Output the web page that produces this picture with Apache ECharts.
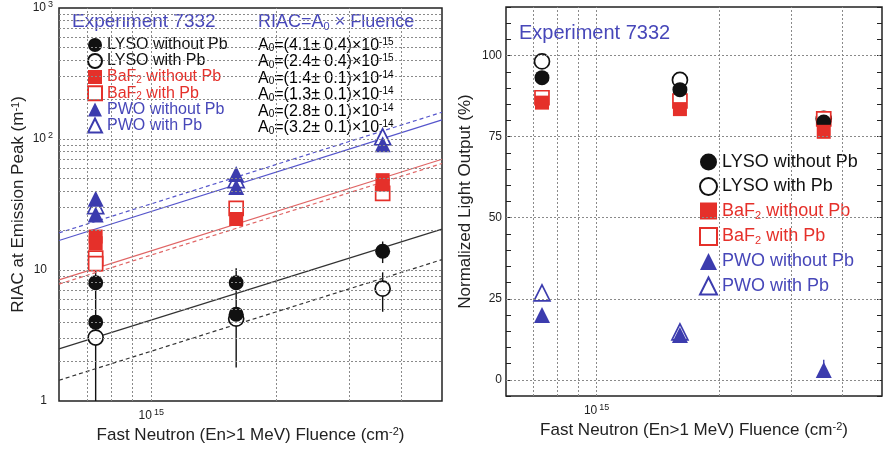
<!DOCTYPE html>
<html>
<head>
<meta charset="utf-8">
<script src="https://cdn.jsdelivr.net/npm/echarts@6/dist/echarts.min.js"></script>
<style>
  html, body { margin: 0; padding: 0; background: #fff; }
  #chart { width: 885px; height: 450px; }
</style>
</head>
<body>
<div id="chart"></div>
<script>
// x: fast neutron fluence (cm^-2), shared by both panels
const fluence = [7.35e14, 1.6e15, 3.6e15];
const fluenceRange = [6e14, 5e15];
const fluenceGrid = [7e14, 8e14, 9e14, 1e15, 2e15, 3e15, 4e15];
const riacGrid = [2, 3, 4, 5, 6, 7, 8, 9, 10, 20, 30, 40, 50, 60, 70, 80, 90, 100, 200, 300, 400, 500, 600, 700, 800, 900];
const lightGrid = [0, 25, 50, 75, 100];

const names = ['LYSO without Pb', 'LYSO with Pb', 'BaF2 without Pb', 'BaF2 with Pb', 'PWO without Pb', 'PWO with Pb'];

// left panel: RIAC (m^-1), one or more samples per fluence point
const riacLysoNoPb = [[8, 4], [8, 4.6], [13.9]];
const riacLysoPb = [[3.05], [4.25], [7.2]];
const riacBafNoPb = [[18, 16], [24.5], [48.5, 45]];
const riacBafPb = [[12.3, 11.2], [29.5], [38.5]];
const riacPwoNoPb = [[35, 26.5], [54, 43], [91]];
const riacPwoPb = [[31], [49], [104]];

// error bars: [fluence index, low, high]
const riacErrLyso = [[0, 0.5, 10.5], [1, 1.8, 10.3], [2, 11.3, 16.5], [2, 4.8, 9.6]];

// fit lines RIAC = A0 x Fluence, values at the two ends of fluenceRange
const fitLysoNoPb = [2.5, 20.5];
const fitLysoPb = [1.44, 12];
const fitBafNoPb = [8.4, 70];
const fitBafPb = [7.8, 65];
const fitPwoNoPb = [16.8, 140];
const fitPwoPb = [19.2, 160];

const a0Body = ['(4.1\u00b1 0.4)\u00d710', '(2.4\u00b1 0.4)\u00d710', '(1.4\u00b1 0.1)\u00d710', '(1.3\u00b1 0.1)\u00d710', '(2.8\u00b1 0.1)\u00d710', '(3.2\u00b1 0.1)\u00d710'];
const a0Exp = ['-15', '-15', '-14', '-14', '-14', '-14'];

// right panel: normalized light output (%)
const lightLysoNoPb = [93.2, 89.5, 79.5];
const lightLysoPb = [98.2, 92.5, 80.5];
const lightBafNoPb = [85.5, 83.5, 76.5];
const lightBafPb = [87, 86, 80.5];
const lightPwoNoPb = [20, 13.8, 3];
const lightPwoPb = [26.8, 14.8, null];
const lightErrPwo = [[2, 0.8, 6.2]];

const FONT = 'Liberation Sans, Arial, sans-serif';
const BLACK = '#111', RED = '#e5302a', BLUE = '#3c3cae';
const textColors = { k: '#111', r: '#e5302a', b: '#4747b9' };
const colorKey = name => name.startsWith('LYSO') ? 'k' : (name.startsWith('BaF2') ? 'r' : 'b');

const markers = {
  'LYSO without Pb': { symbol: 'circle', size: 15, color: BLACK, open: false },
  'LYSO with Pb': { symbol: 'circle', size: 15, color: BLACK, open: true },
  'BaF2 without Pb': { symbol: 'rect', size: 14, color: RED, open: false },
  'BaF2 with Pb': { symbol: 'rect', size: 14, color: RED, open: true },
  'PWO without Pb': { symbol: 'triangle', size: 16, color: BLUE, open: false },
  'PWO with Pb': { symbol: 'triangle', size: 16, color: BLUE, open: true }
};

function mkRich (size, lh) {
  const rich = {};
  const small = Math.round(size * 0.62);
  Object.keys(textColors).forEach(k => {
    const c = textColors[k];
    rich['t' + k] = { color: c, fontSize: size, lineHeight: lh, fontFamily: FONT };
    rich['sub' + k] = { color: c, fontSize: small, lineHeight: small, verticalAlign: 'bottom', fontFamily: FONT };
    rich['sup' + k] = { color: c, fontSize: small, lineHeight: small, verticalAlign: 'top', fontFamily: FONT };
  });
  return rich;
}

function nameLabel (name) {
  const k = colorKey(name);
  if (name.startsWith('BaF2')) {
    return `{t${k}|BaF}{sub${k}|2}{t${k}|${name.slice(4)}}`;
  }
  return `{t${k}|${name}}`;
}

function scatter (name, xi, yi, data) {
  const m = markers[name];
  return {
    name, type: 'scatter', xAxisIndex: xi, yAxisIndex: yi, data,
    symbol: m.symbol, symbolSize: m.size, z: m.open ? 3 : 4,
    itemStyle: m.open
      ? { color: '#fff', borderColor: m.color, borderWidth: 1.7, opacity: 1 }
      : { color: m.color, borderColor: m.color, borderWidth: 0, opacity: 1 }
  };
}

const samples = arr => fluence.flatMap((f, i) => arr[i].map(v => [f, v]));
const points = arr => fluence.map((f, i) => [f, arr[i]]).filter(p => p[1] != null);
const errData = arr => arr.map(e => [fluence[e[0]], e[1], e[2]]);

function fit (vals, color, dashed) {
  return {
    type: 'line', xAxisIndex: 0, yAxisIndex: 0, silent: true, z: 2,
    data: [[fluenceRange[0], vals[0]], [fluenceRange[1], vals[1]]],
    showSymbol: false,
    lineStyle: { color, width: 1.2, type: dashed ? [4, 3] : 'solid' }
  };
}

function errorBars (data, xi, yi, color) {
  return {
    type: 'custom', xAxisIndex: xi, yAxisIndex: yi, silent: true, z: 2, clip: true,
    data, encode: { x: 0, y: [1, 2] },
    renderItem: (params, api) => {
      const p1 = api.coord([api.value(0), api.value(1)]);
      const p2 = api.coord([api.value(0), api.value(2)]);
      return { type: 'line', shape: { x1: p1[0], y1: p1[1], x2: p2[0], y2: p2[1] }, style: { stroke: color, lineWidth: 1.4 } };
    }
  };
}

function gridLines (xi, yi, xs, ys) {
  return {
    type: 'line', xAxisIndex: xi, yAxisIndex: yi, data: [], silent: true, z: 1,
    markLine: {
      silent: true, symbol: 'none', animation: false,
      label: { show: false },
      lineStyle: { color: '#8a8a8a', width: 1, type: [2, 2] },
      data: xs.map(v => ({ xAxis: v })).concat(ys.map(v => ({ yAxis: v })))
    }
  };
}

const tickRich = {
  n: { fontSize: 12, lineHeight: 16, color: '#222', fontFamily: FONT },
  s: { fontSize: 9, lineHeight: 9, verticalAlign: 'top', color: '#222', fontFamily: FONT, padding: [0, 0, 0, 2] },
  gap: { width: 6, fontSize: 9 }
};
const nameStyle = {
  fontSize: 17, color: '#222', fontFamily: FONT,
  rich: {
    s: { fontSize: 11, lineHeight: 10, verticalAlign: 'top', color: '#222', fontFamily: FONT }
  }
};
const fluenceLabel = v => Math.abs(Math.log10(v) - 15) < 1e-6 ? '{n|10}{s|15}' : '';

function fluenceAxis (gridIndex) {
  return {
    gridIndex, type: 'log', logBase: 10, min: fluenceRange[0], max: fluenceRange[1],
    axisLine: { show: false }, axisTick: { show: false }, splitLine: { show: false },
    axisLabel: { formatter: fluenceLabel, rich: tickRich, margin: 7 },
    name: 'Fast Neutron (En>1 MeV) Fluence (cm{s|-2})',
    nameLocation: 'middle', nameGap: 24, nameTextStyle: nameStyle
  };
}

function lightAxis (position, showLabel) {
  return {
    gridIndex: 1, type: 'value', position, min: -5, max: 115, interval: 5,
    axisLine: { show: false },
    axisTick: { show: true, inside: true, length: 5, lineStyle: { color: '#222' } },
    splitLine: { show: false },
    axisLabel: {
      show: showLabel, margin: 4, fontSize: 12, color: '#222', fontFamily: FONT,
      formatter: v => v % 25 === 0 && v >= 0 && v <= 100 ? String(v) : ''
    },
    name: showLabel ? 'Normalized Light Output (%)' : '',
    nameLocation: 'middle', nameGap: 32, nameTextStyle: nameStyle
  };
}

const legendTop = 37, legendPitch = 16.5;

const option = {
  animation: false,
  backgroundColor: '#fff',
  textStyle: { fontFamily: FONT },
  grid: [
    { left: 59, top: 5, width: 383, height: 396, show: true, borderColor: '#222', borderWidth: 1.5 },
    { left: 506, top: 7, width: 377, height: 389, show: true, borderColor: '#222', borderWidth: 1.5 }
  ],
  xAxis: [fluenceAxis(0), fluenceAxis(1)],
  yAxis: [
    {
      gridIndex: 0, type: 'log', logBase: 10, min: 1, max: 1000,
      axisLine: { show: false }, axisTick: { show: false }, splitLine: { show: false },
      axisLabel: {
        margin: 6, rich: tickRich,
        formatter: v => {
          const e = Math.round(Math.log10(v));
          return e <= 1 ? `{n|${Math.round(v)}}{gap| }` : `{n|10}{s|${e}}`;
        }
      },
      name: 'RIAC at Emission Peak (m{s|-1})',
      nameLocation: 'middle', nameGap: 32, nameTextStyle: nameStyle
    },
    lightAxis('left', true),
    lightAxis('right', false)
  ],
  legend: [
    {
      orient: 'vertical', left: 87, top: legendTop, padding: 0, itemGap: 0,
      itemWidth: 14, itemHeight: 14, selectedMode: false,
      data: names, formatter: nameLabel,
      textStyle: { rich: mkRich(16, legendPitch) }
    },
    {
      orient: 'vertical', left: 699, top: 153, padding: 0, itemGap: 6,
      itemWidth: 17, itemHeight: 17, selectedMode: false,
      data: names, formatter: nameLabel,
      textStyle: { rich: mkRich(18, 20) }
    }
  ],
  graphic: [
    { type: 'text', x: 72, y: 22, silent: true, style: { text: 'Experiment 7332', fill: textColors.b, font: '19px ' + FONT, verticalAlign: 'middle' } },
    {
      type: 'text', x: 258, y: 22, silent: true,
      style: { text: '{t|RIAC=A}{sub|0}{t| \u00d7 Fluence}', verticalAlign: 'middle',
        rich: {
          t: { fill: textColors.b, fontSize: 18, lineHeight: 20, fontFamily: FONT },
          sub: { fill: textColors.b, fontSize: 11, lineHeight: 11, verticalAlign: 'bottom', fontFamily: FONT }
        } }
    },
    { type: 'text', x: 519, y: 33, silent: true, style: { text: 'Experiment 7332', fill: textColors.b, font: '20px ' + FONT, verticalAlign: 'middle' } }
  ].concat(names.map((name, i) => {
    const k = colorKey(name);
    return {
      type: 'text', x: 258, y: legendTop + legendPitch / 2 + i * legendPitch, silent: true,
      style: {
        text: `{t${k}|A}{sub${k}|0}{t${k}|=${a0Body[i]}}{sup${k}|${a0Exp[i]}}`,
        verticalAlign: 'middle', rich: mkRich(16, legendPitch)
      }
    };
  })),
  series: [
    gridLines(0, 0, fluenceGrid, riacGrid),
    gridLines(1, 1, fluenceGrid, lightGrid),

    fit(fitLysoNoPb, '#333', false),
    fit(fitLysoPb, '#333', true),
    fit(fitBafNoPb, '#e06565', false),
    fit(fitBafPb, '#e06565', true),
    fit(fitPwoNoPb, '#5656cc', false),
    fit(fitPwoPb, '#5656cc', true),

    errorBars(errData(riacErrLyso), 0, 0, BLACK),
    errorBars(errData(lightErrPwo), 1, 1, BLUE),

    scatter('LYSO without Pb', 0, 0, samples(riacLysoNoPb)),
    scatter('LYSO with Pb', 0, 0, samples(riacLysoPb)),
    scatter('BaF2 without Pb', 0, 0, samples(riacBafNoPb)),
    scatter('BaF2 with Pb', 0, 0, samples(riacBafPb)),
    scatter('PWO without Pb', 0, 0, samples(riacPwoNoPb)),
    scatter('PWO with Pb', 0, 0, samples(riacPwoPb)),

    scatter('LYSO without Pb', 1, 1, points(lightLysoNoPb)),
    scatter('LYSO with Pb', 1, 1, points(lightLysoPb)),
    scatter('BaF2 without Pb', 1, 1, points(lightBafNoPb)),
    scatter('BaF2 with Pb', 1, 1, points(lightBafPb)),
    scatter('PWO without Pb', 1, 1, points(lightPwoNoPb)),
    scatter('PWO with Pb', 1, 1, points(lightPwoPb))
  ]
};

const chart = echarts.init(document.getElementById('chart'), null, { renderer: 'canvas' });
chart.setOption(option);
</script>
</body>
</html>
